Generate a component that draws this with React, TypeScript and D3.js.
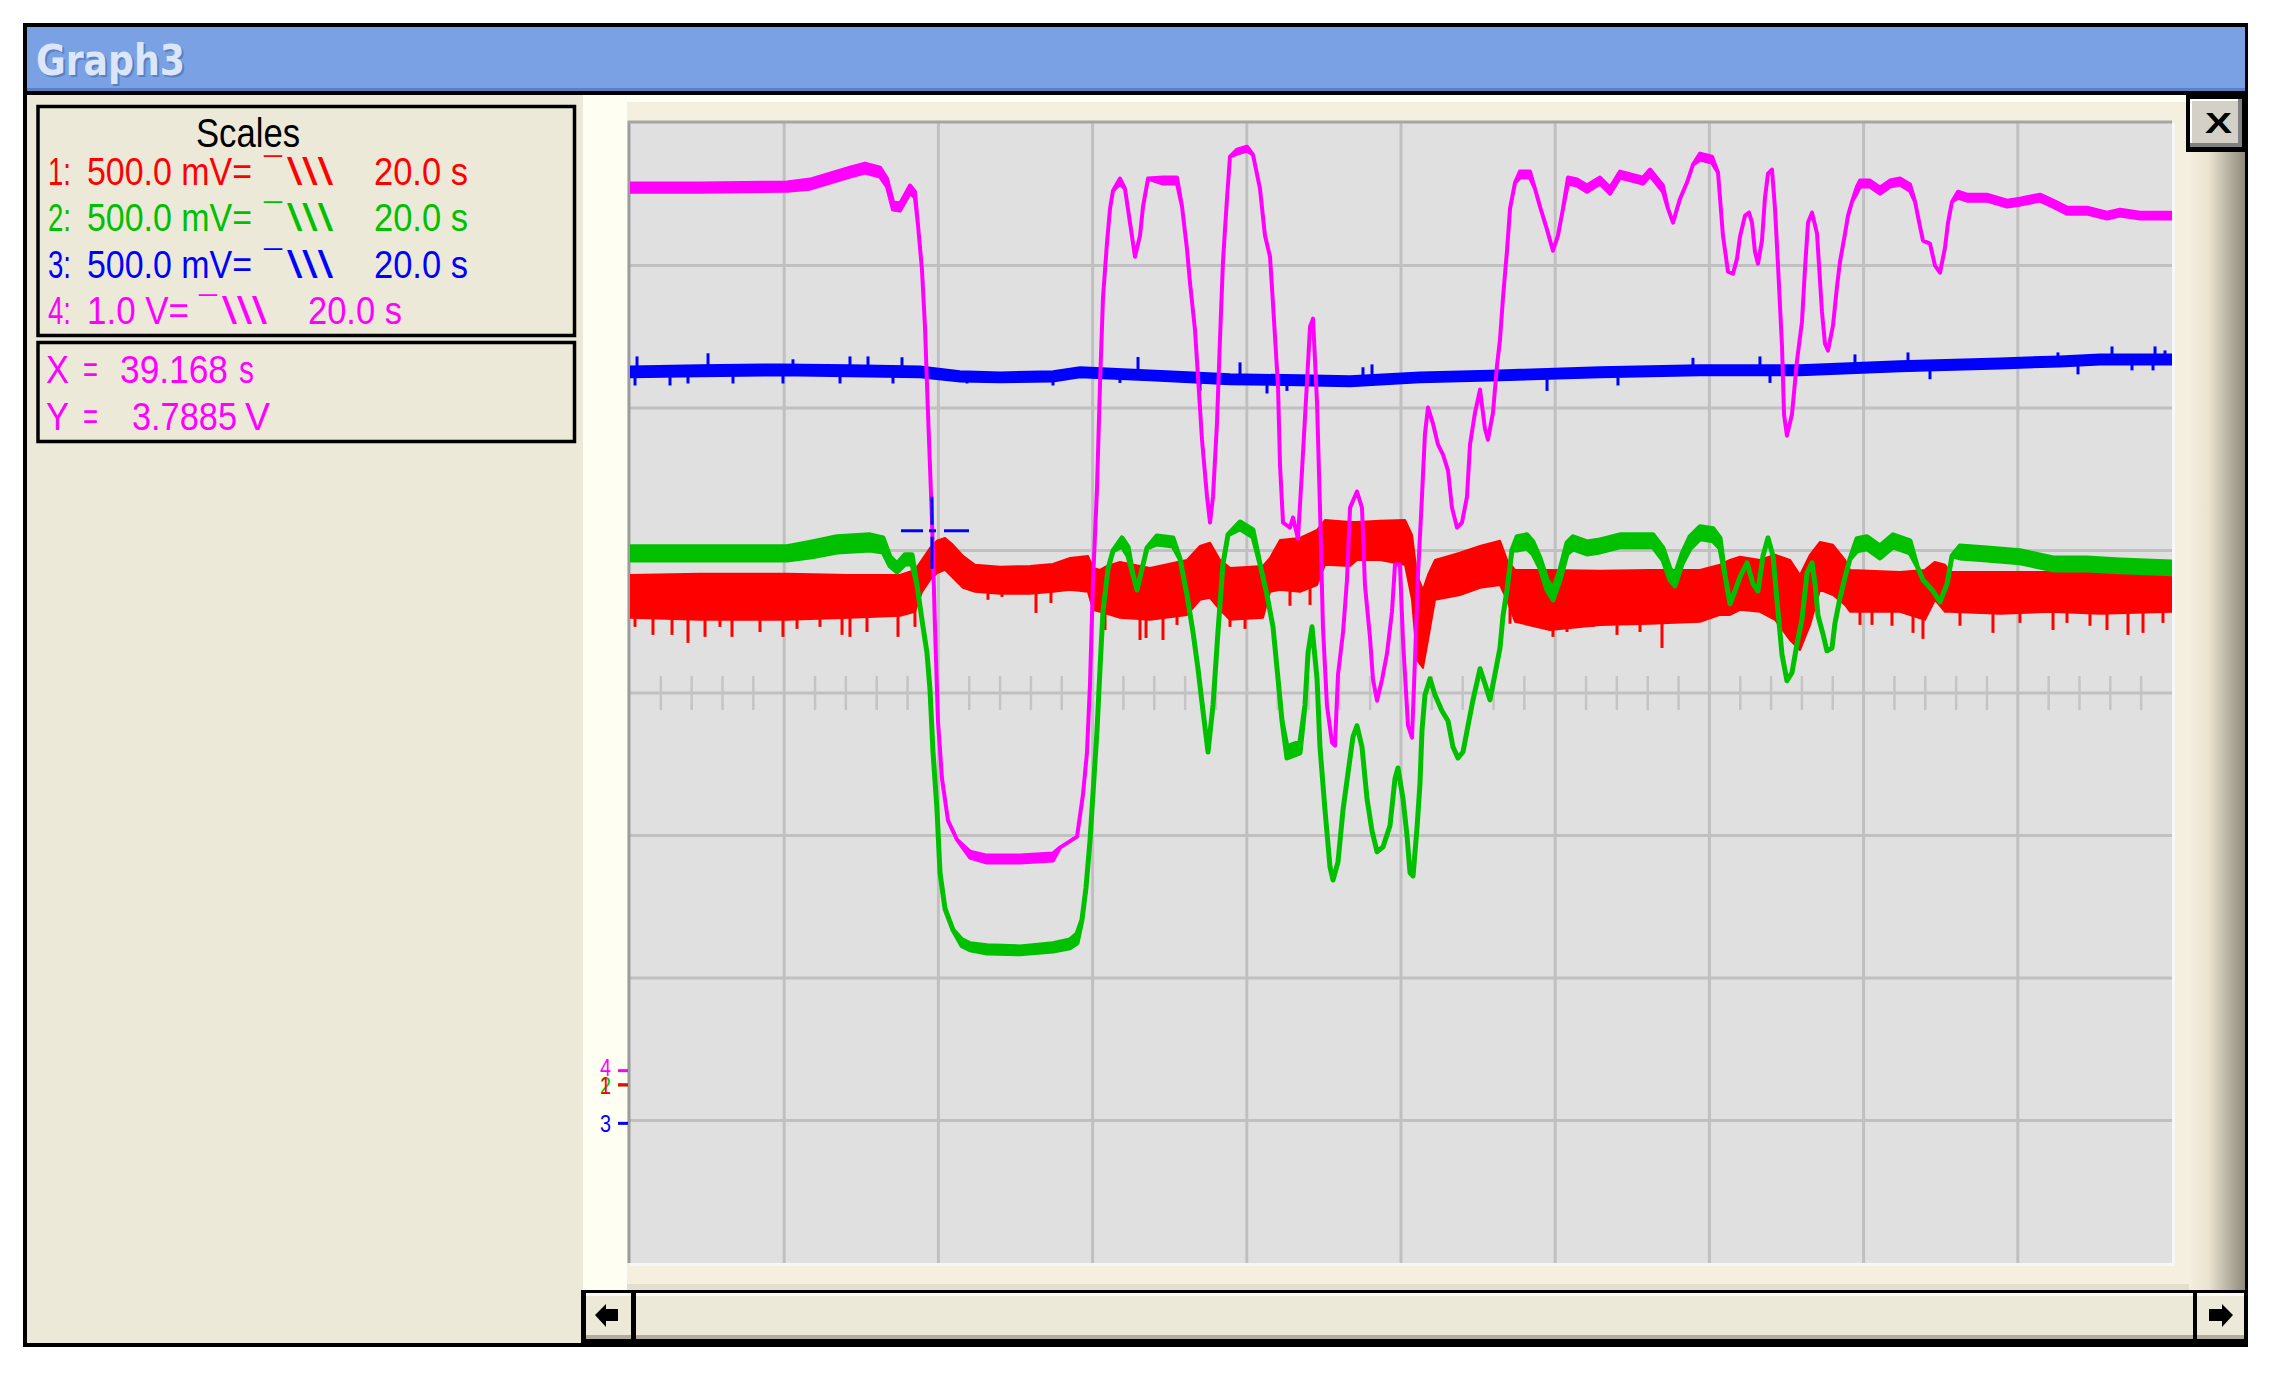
import React from "react";
import * as d3 from "d3";

// Envelopes: [time s, V] for a thin trace,
// [time s, min V, max V] where the trace is a noisy band.
const ch1Trace = [
  [0, 1.639, 1.789], [9.08, 1.632, 1.793], [20.36, 1.632, 1.793], [28.53, 1.639, 1.789],
  [35.02, 1.646, 1.789], [36.96, 1.66, 1.807], [37.87, 1.73, 1.842], [38.91, 1.772, 1.884],
  [39.82, 1.796, 1.909], [40.86, 1.807, 1.919], [41.89, 1.779, 1.895], [43.19, 1.744, 1.856],
  [44.75, 1.73, 1.825], [47.99, 1.723, 1.818], [51.88, 1.723, 1.821], [54.86, 1.73, 1.828],
  [57.07, 1.737, 1.849], [59.4, 1.73, 1.856], [60.05, 1.667, 1.814], [60.96, 1.66, 1.807],
  [61.87, 1.653, 1.821], [63.55, 1.639, 1.835], [67.44, 1.632, 1.814], [72.24, 1.649, 1.842],
  [73.93, 1.702, 1.891], [75.23, 1.709, 1.902], [76.52, 1.667, 1.842], [77.82, 1.632, 1.814],
  [82.1, 1.639, 1.821], [83.01, 1.73, 1.849], [84.31, 1.737, 1.912], [86.9, 1.73, 1.919],
  [89.11, 1.754, 1.947], [90.14, 1.825, 1.982], [93.39, 1.821, 1.975], [94.29, 1.842, 1.975],
  [97.28, 1.842, 1.979], [100.52, 1.825, 1.982], [101.43, 1.702, 1.93], [102.08, 1.491, 1.789],
  [102.85, 1.463, 1.737], [103.5, 1.561, 1.789], [104.41, 1.702, 1.842], [107.65, 1.719, 1.867],
  [110.25, 1.744, 1.891], [112.84, 1.754, 1.909], [113.75, 1.702, 1.842], [114.79, 1.625, 1.807],
  [119.33, 1.596, 1.807], [125.81, 1.614, 1.804], [132.3, 1.618, 1.807], [138.78, 1.625, 1.807],
  [141.37, 1.649, 1.825], [142.67, 1.649, 1.842], [143.97, 1.667, 1.853], [146.56, 1.66, 1.842],
  [148.51, 1.632, 1.86], [150.45, 1.561, 1.842], [151.75, 1.526, 1.789], [153.05, 1.614, 1.86],
  [154.35, 1.737, 1.905], [156.03, 1.719, 1.895], [157.59, 1.684, 1.842], [158.24, 1.66, 1.807],
  [164.72, 1.66, 1.8], [167.96, 1.632, 1.807], [169.26, 1.702, 1.835], [170.56, 1.66, 1.825],
  [171.21, 1.66, 1.8], [177.69, 1.653, 1.8], [184.18, 1.66, 1.8], [190.66, 1.653, 1.8],
  [200, 1.66, 1.793],
];

const ch2Trace = [
  [0, 1.842, 1.888], [20.36, 1.842, 1.888], [23.61, 1.853, 1.905], [26.85, 1.87, 1.923],
  [31.13, 1.877, 1.93], [32.81, 1.87, 1.919], [33.72, 1.821, 1.853], [34.63, 1.8, 1.828],
  [35.67, 1.828, 1.86], [36.58, 1.828, 1.86], [37.22, 1.754], [37.87, 1.632], [38.52, 1.516],
  [38.91, 1.386], [39.3, 1.168], [39.82, 0.965], [40.21, 0.744], [40.86, 0.618], [41.89, 0.544],
  [43.06, 0.488, 0.509], [44.1, 0.474, 0.495], [46.3, 0.463, 0.488], [50.58, 0.46, 0.484],
  [54.86, 0.47, 0.495], [57.07, 0.481, 0.509], [57.98, 0.498, 0.53], [58.62, 0.579],
  [59.14, 0.691], [59.66, 0.856], [60.05, 1.021], [60.57, 1.242], [60.96, 1.46], [61.35, 1.663],
  [62.0, 1.811], [62.65, 1.874], [63.81, 1.891, 1.919], [64.59, 1.856, 1.888], [65.24, 1.789],
  [65.76, 1.737], [66.41, 1.811], [67.06, 1.884], [68.35, 1.898, 1.926], [70.43, 1.891, 1.919],
  [71.34, 1.846], [72.24, 1.719], [73.02, 1.589], [73.67, 1.46], [74.32, 1.312], [74.97, 1.168],
  [75.62, 1.333], [76.26, 1.589], [76.91, 1.828], [77.56, 1.93], [79.12, 1.951, 1.975],
  [80.8, 1.923, 1.947], [81.71, 1.828], [82.62, 1.719], [83.4, 1.607], [84.05, 1.425],
  [84.57, 1.277], [85.21, 1.147, 1.186], [86.9, 1.165, 1.204], [87.55, 1.333], [87.94, 1.516],
  [88.46, 1.607], [89.11, 1.425], [89.49, 1.186], [90.14, 0.965], [90.79, 0.765], [91.18, 0.719],
  [91.83, 0.782], [92.48, 0.965], [93.13, 1.095], [93.77, 1.221], [94.29, 1.26], [94.94, 1.186],
  [95.59, 1.004], [96.24, 0.891], [96.89, 0.818], [97.67, 0.835], [98.57, 0.909], [99.22, 1.074],
  [99.61, 1.112], [100.26, 1.004], [100.78, 0.874], [101.17, 0.744], [101.56, 0.733],
  [102.08, 0.902], [102.46, 1.056], [102.72, 1.242], [103.11, 1.368], [103.76, 1.425],
  [104.41, 1.368], [105.32, 1.312], [106.1, 1.277], [106.74, 1.186], [107.39, 1.147],
  [108.04, 1.168], [108.69, 1.26], [109.34, 1.351], [110.25, 1.46], [110.89, 1.407],
  [111.54, 1.351], [112.19, 1.442], [112.84, 1.533], [113.23, 1.646], [113.75, 1.737],
  [114.4, 1.877], [115.05, 1.877, 1.923], [116.34, 1.884, 1.93], [117.12, 1.863, 1.905],
  [118.03, 1.814, 1.849], [118.94, 1.737, 1.772], [119.71, 1.702, 1.737], [120.62, 1.772, 1.807],
  [121.53, 1.863, 1.902], [122.31, 1.881, 1.923], [124.12, 1.863, 1.905], [125.81, 1.87, 1.912],
  [128.4, 1.888, 1.93], [132.68, 1.888, 1.93], [133.98, 1.842, 1.884], [134.89, 1.772, 1.811],
  [135.54, 1.751, 1.789], [136.45, 1.828, 1.863], [137.48, 1.881, 1.923], [138.78, 1.916, 1.958],
  [140.47, 1.909, 1.951], [141.37, 1.884, 1.919], [142.02, 1.789], [142.67, 1.688],
  [143.32, 1.733], [143.97, 1.782], [144.88, 1.832], [145.66, 1.758], [146.3, 1.733],
  [146.95, 1.856], [147.6, 1.919], [148.25, 1.856], [148.9, 1.66], [149.42, 1.509],
  [150.06, 1.418], [150.71, 1.446], [151.36, 1.547], [152.01, 1.635], [152.66, 1.796],
  [153.31, 1.832], [153.7, 1.758], [154.09, 1.646], [154.73, 1.582], [155.25, 1.523],
  [155.9, 1.533], [156.29, 1.621], [156.94, 1.709], [157.59, 1.782], [158.24, 1.846],
  [159.14, 1.874, 1.916], [160.44, 1.881, 1.923], [162.13, 1.849, 1.891], [163.81, 1.888, 1.93],
  [166.02, 1.867, 1.909], [166.93, 1.821], [167.7, 1.772], [169.0, 1.733], [169.91, 1.695],
  [170.82, 1.758], [171.47, 1.856], [172.5, 1.849, 1.891], [176.0, 1.842, 1.884],
  [180.28, 1.832, 1.874], [184.57, 1.807, 1.849], [188.98, 1.807, 1.849], [193.26, 1.8, 1.842],
  [200, 1.793, 1.835],
];

const ch3Trace = [
  [0, 2.618, 2.656], [9.08, 2.621, 2.66], [19.46, 2.625, 2.663], [28.53, 2.621, 2.66],
  [37.61, 2.618, 2.656], [42.8, 2.603, 2.639], [47.99, 2.6, 2.635], [54.86, 2.603, 2.639],
  [58.37, 2.618, 2.653], [67.44, 2.607, 2.642], [77.82, 2.593, 2.628], [86.9, 2.59, 2.625],
  [93.39, 2.586, 2.621], [102.46, 2.6, 2.635], [112.84, 2.607, 2.642], [125.81, 2.618, 2.653],
  [138.78, 2.625, 2.66], [151.75, 2.625, 2.66], [164.72, 2.639, 2.674], [177.69, 2.649, 2.684],
  [185.47, 2.656, 2.691], [190.66, 2.663, 2.698], [200, 2.663, 2.698],
];

const ch4Trace = [
  [0, 6.168, 6.225], [9.08, 6.168, 6.225], [20.36, 6.175, 6.232], [23.35, 6.189, 6.253],
  [25.94, 6.232, 6.295], [28.53, 6.274, 6.337], [30.48, 6.302, 6.365], [32.43, 6.274, 6.337],
  [33.33, 6.204, 6.26], [34.11, 6.042, 6.098], [35.02, 6.035, 6.084], [36.32, 6.161, 6.211],
  [36.96, 6.126, 6.168], [37.35, 5.937], [37.87, 5.621], [38.26, 5.221], [38.65, 4.618],
  [39.17, 3.86], [39.56, 3.109], [39.95, 2.449], [40.47, 2.049], [41.25, 1.754], [42.41, 1.621],
  [44.1, 1.495, 1.537], [46.3, 1.46, 1.509], [50.58, 1.46, 1.509], [54.86, 1.474, 1.523],
  [55.77, 1.565], [57.98, 1.642], [58.75, 1.937], [59.27, 2.232], [59.66, 2.709], [60.05, 3.432],
  [60.57, 4.084], [60.96, 4.814], [61.35, 5.425], [61.87, 5.811], [62.26, 6.049], [62.65, 6.175],
  [63.55, 6.225, 6.26], [64.2, 6.189], [64.85, 5.951], [65.5, 5.712], [66.15, 5.86], [66.54, 6.063],
  [67.19, 6.26], [69.13, 6.225, 6.267], [70.95, 6.225, 6.267], [71.6, 6.063], [72.24, 5.768],
  [72.63, 5.53], [73.28, 5.2], [73.67, 4.87], [74.19, 4.428], [74.84, 4.028], [75.23, 3.846],
  [75.62, 4.028], [76.13, 4.54], [76.52, 5.13], [76.91, 5.677], [77.43, 6.119], [77.82, 6.414],
  [78.73, 6.435, 6.463], [80.03, 6.456, 6.484], [80.8, 6.428], [81.71, 6.189], [82.36, 5.86],
  [83.01, 5.712], [83.4, 5.382], [84.05, 4.8], [84.31, 4.246], [84.7, 3.846], [85.6, 3.811],
  [85.99, 3.881], [86.64, 3.733], [87.16, 4.211], [87.81, 4.835], [88.2, 5.221], [88.59, 5.277],
  [89.11, 4.688], [89.49, 3.951], [89.88, 3.109], [90.4, 2.561], [91.05, 2.302], [91.44, 2.281],
  [91.83, 2.779], [92.48, 3.074], [92.99, 3.439], [93.39, 3.951], [94.29, 4.063], [94.94, 3.951],
  [95.33, 3.404], [95.98, 3.039], [96.37, 2.744], [96.89, 2.596], [97.54, 2.744], [98.18, 2.926],
  [98.83, 3.221], [99.22, 3.551], [99.87, 3.551], [100.26, 3.018], [100.91, 2.421], [101.43, 2.337],
  [101.82, 2.891], [102.2, 3.474], [102.72, 4.028], [103.11, 4.47], [103.5, 4.653], [104.15, 4.54],
  [104.8, 4.393], [105.45, 4.323], [106.1, 4.211], [106.61, 3.951], [107.26, 3.811],
  [107.91, 3.846], [108.56, 4.028], [108.95, 4.393], [109.6, 4.618], [110.25, 4.779],
  [110.89, 4.505], [111.28, 4.428], [111.93, 4.618], [112.45, 4.947], [112.84, 5.13],
  [113.23, 5.425], [113.75, 5.754], [114.14, 6.049], [114.79, 6.232], [115.43, 6.267, 6.309],
  [116.73, 6.267, 6.309], [117.38, 6.189], [118.03, 6.063], [118.94, 5.902], [119.71, 5.754],
  [120.36, 5.86], [121.01, 6.049], [121.66, 6.225, 6.267], [122.83, 6.211, 6.253],
  [124.12, 6.168, 6.211], [125.81, 6.225, 6.267], [127.11, 6.154, 6.196], [128.4, 6.267, 6.309],
  [131.39, 6.225, 6.267], [132.3, 6.281, 6.323], [133.98, 6.168, 6.211], [134.63, 6.049],
  [135.28, 5.951], [136.19, 6.119], [137.09, 6.232], [137.87, 6.358], [138.78, 6.393, 6.435],
  [140.34, 6.372, 6.414], [141.12, 6.302], [141.76, 5.86], [142.41, 5.607], [143.06, 5.593],
  [143.58, 5.698], [143.97, 5.853], [144.62, 6.0], [145.14, 6.021], [145.53, 5.951],
  [145.91, 5.747], [146.3, 5.663], [146.82, 5.825], [147.21, 6.126], [147.6, 6.295],
  [148.12, 6.323], [148.51, 6.049], [148.9, 5.649], [149.42, 5.081], [149.68, 4.604],
  [150.06, 4.456], [150.71, 4.604], [151.36, 4.982], [152.01, 5.256], [152.4, 5.628],
  [152.79, 5.951], [153.31, 6.021], [153.96, 5.874], [154.22, 5.649], [154.6, 5.326],
  [154.99, 5.102], [155.38, 5.053], [156.03, 5.228], [156.55, 5.502], [156.94, 5.677],
  [157.59, 5.874], [157.98, 6.0], [158.5, 6.098], [159.14, 6.161, 6.204], [159.53, 6.204, 6.246],
  [160.83, 6.204, 6.246], [162.13, 6.154, 6.196], [163.42, 6.204, 6.246], [164.72, 6.218, 6.26],
  [166.02, 6.175, 6.218], [166.67, 6.098], [167.32, 5.923], [167.7, 5.825], [168.61, 5.804],
  [169.26, 5.649], [169.91, 5.6], [170.56, 5.775], [170.95, 5.951], [171.47, 6.098],
  [172.24, 6.126, 6.168], [173.41, 6.105, 6.147], [176.0, 6.105, 6.147], [178.6, 6.063, 6.105],
  [180.28, 6.077, 6.119], [182.88, 6.105, 6.147], [184.57, 6.063, 6.105], [186.38, 6.014, 6.056],
  [188.98, 6.014, 6.056], [191.57, 5.979, 6.021], [193.26, 6.0, 6.042], [195.85, 5.979, 6.021],
  [200, 5.979, 6.021],
];

// noise spikes: [time s, tip V]
const ch1Spikes = [
  [0.65, 1.607], [2.98, 1.579], [5.45, 1.579], [7.52, 1.551], [9.73, 1.572], [11.67, 1.607],
  [13.23, 1.572], [16.86, 1.589], [19.84, 1.572], [21.66, 1.6], [24.64, 1.607], [27.5, 1.579],
  [28.53, 1.572], [30.74, 1.589], [34.76, 1.572], [36.96, 1.607], [46.43, 1.702], [48.25, 1.712],
  [52.66, 1.656], [54.6, 1.691], [61.61, 1.596], [66.15, 1.561], [66.93, 1.568], [69.13, 1.561],
  [70.95, 1.614], [77.82, 1.607], [79.77, 1.6], [85.6, 1.681], [88.2, 1.684], [114.14, 1.618],
  [115.43, 1.625], [119.71, 1.572], [121.53, 1.589], [124.9, 1.607], [128.02, 1.579],
  [131.0, 1.589], [133.85, 1.533], [159.53, 1.614], [161.09, 1.614], [163.68, 1.611],
  [166.41, 1.586], [167.7, 1.565], [172.5, 1.611], [176.78, 1.586], [180.28, 1.621],
  [184.57, 1.596], [186.38, 1.621], [189.36, 1.611], [191.57, 1.596], [194.29, 1.579],
  [196.24, 1.586], [198.83, 1.621],
];

const ch3Spikes = [
  [0.91, 2.691], [10.12, 2.702], [21.14, 2.681], [28.53, 2.691], [30.87, 2.691], [35.28, 2.688],
  [0.65, 2.589], [5.19, 2.589], [7.52, 2.596], [13.36, 2.596], [19.84, 2.596], [27.24, 2.596],
  [34.11, 2.596], [43.71, 2.596], [54.86, 2.589], [63.55, 2.598], [65.89, 2.689], [73.93, 2.57],
  [79.12, 2.67], [82.62, 2.561], [85.21, 2.57], [95.07, 2.653], [96.24, 2.663], [118.94, 2.57],
  [128.14, 2.589], [137.87, 2.686], [146.56, 2.691], [147.86, 2.598], [158.88, 2.698],
  [165.76, 2.705], [168.61, 2.611], [185.21, 2.705], [187.81, 2.628], [192.22, 2.726],
  [194.81, 2.642], [197.54, 2.642], [197.8, 2.726], [199.09, 2.712],
];

// scope settings
const channelIds = ["1", "2", "3", "4"];
const channelScaleText = ["500.0 mV=", "500.0 mV=", "500.0 mV=", "1.0 V="];
const channelVoltsPerDiv = [0.5, 0.5, 0.5, 1.0];
const channelZeroDiv = [-2.75, -2.75, -3.02, -2.65];
const timebaseText = "20.0 s";
const couplingGlyph = ["\u00AF", "\\\\\\"];
const timeRange = [0, 200];
const divRange = [-4, 4];
const cursorTime = 39.168;
const cursorVolts = 3.7885;
const cursorChannel = 3;
const windowTitle = "Graph3";

const traces = [ch1Trace, ch2Trace, ch3Trace, ch4Trace];
const spikes = [ch1Spikes, [], ch3Spikes, []];
const channelColors = ["#ff0000", "#00c000", "#0000ff", "#ff00ff"];
const traceStroke = [2, 5, 2, 4];

const PLOT = { x0: 630, x1: 2172, y0: 123, y1: 1263 };
const BODY_FONT = "'Liberation Sans', Arial, sans-serif";
const TALL = 1.15; // legend glyphs are taller than they are wide

const hiOf = (d: number[]) => (d.length > 2 ? d[2] : d[1]);
const byTime = d3.bisector((d: number[]) => d[0]);

// middle of the band at time t, for anchoring a spike
function bandMid(tr: number[][], t: number) {
  const i = Math.min(Math.max(byTime.left(tr, t), 1), tr.length - 1);
  const a = tr[i - 1];
  const b = tr[i];
  const f = b[0] === a[0] ? 0 : (t - a[0]) / (b[0] - a[0]);
  const ma = (a[1] + hiOf(a)) / 2;
  const mb = (b[1] + hiOf(b)) / 2;
  return ma + f * (mb - ma);
}

// one run of condensed legend text, baseline at y
function Cond({ x, y, w, children, fill }: { x: number; y: number; w: number; children: any; fill?: string }) {
  return (
    <g transform={`translate(0,${y}) scale(1,${TALL})`}>
      <text x={x} y={0} fill={fill} textLength={w} lengthAdjust="spacingAndGlyphs">
        {children}
      </text>
    </g>
  );
}

export default function App() {
  const x = d3.scaleLinear().domain(timeRange).range([PLOT.x0, PLOT.x1]);
  const div = d3.scaleLinear().domain(divRange).range([PLOT.y1, PLOT.y0]);
  const yCh = (ci: number, v: number) => div(v / channelVoltsPerDiv[ci] + channelZeroDiv[ci]);

  const vLines = d3.range(1, 10).map((i) => x(timeRange[0] + i * 20));
  const hLines = d3.range(divRange[0] + 1, divRange[1]).map((d) => div(d));
  const minorTicks = d3
    .range(timeRange[0] + 4, timeRange[1], 4)
    .filter((t) => Math.round(t) % 20 !== 0)
    .map((t) => x(t));
  const yMid = div(0);

  const paths = traces.map((tr, ci) =>
    d3
      .area<number[]>()
      .x((d) => x(d[0]))
      .y0((d) => yCh(ci, d[1]))
      .y1((d) => yCh(ci, hiOf(d)))(tr)
  );

  const cx = x(cursorTime);
  const cy = yCh(cursorChannel, cursorVolts);

  const rowY = (i: number) => 185 + i * 46.3;
  const rowLayout = [
    { labelW: 165, symX: 264, symW: 69, tbX: 374 },
    { labelW: 165, symX: 264, symW: 69, tbX: 374 },
    { labelW: 165, symX: 264, symW: 69, tbX: 374 },
    { labelW: 102, symX: 199, symW: 68, tbX: 308 },
  ];

  return (
    <svg
      width={2277}
      height={1390}
      style={{ position: "absolute", left: 0, top: 0, background: "#fff" }}
      fontFamily={BODY_FONT}
    >
      <defs>
        <linearGradient id="edgeShade" x1="0" x2="1" y1="0" y2="0">
          <stop offset="0" stopColor="#f4efdf" />
          <stop offset="0.35" stopColor="#e9e3cf" />
          <stop offset="1" stopColor="#8f8a7b" />
        </linearGradient>
        <clipPath id="plotClip">
          <rect x={PLOT.x0} y={PLOT.y0} width={PLOT.x1 - PLOT.x0} height={PLOT.y1 - PLOT.y0} />
        </clipPath>
      </defs>

      {/* window frame + title bar */}
      <rect x={23} y={23} width={2225} height={1324} fill="#000" />
      <rect x={27} y={27} width={2218} height={64} fill="#79a1e3" />
      <rect x={27} y={88} width={2218} height={3} fill="#5a80c6" />
      <text x={38} y={77} fontFamily="'DejaVu Sans', Verdana, sans-serif" fontWeight="bold"
        fontSize={43} fill="#5b7fc2" textLength={149} lengthAdjust="spacingAndGlyphs">{windowTitle}</text>
      <text x={36} y={75} fontFamily="'DejaVu Sans', Verdana, sans-serif" fontWeight="bold"
        fontSize={43} fill="#dbe6f8" textLength={149} lengthAdjust="spacingAndGlyphs">{windowTitle}</text>

      {/* left info panel */}
      <rect x={27} y={95} width={556} height={1248} fill="#ece9d8" />
      <rect x={38} y={106.5} width={536.5} height={229} fill="none" stroke="#000" strokeWidth={3.5} />
      <rect x={38} y={342.5} width={536.5} height={99} fill="none" stroke="#000" strokeWidth={3.5} />
      <g fontSize={35}>
        <Cond x={196} y={147} w={104} fill="#000">Scales</Cond>
      </g>
      {channelIds.map((id, i) => {
        const L = rowLayout[i];
        return (
          <g key={id} fill={channelColors[i]} fontSize={33}>
            <Cond x={48} y={rowY(i)} w={23}>{id + ":"}</Cond>
            <Cond x={87} y={rowY(i)} w={L.labelW}>{channelScaleText[i]}</Cond>
            <Cond x={L.symX} y={rowY(i)} w={18}>{couplingGlyph[0]}</Cond>
            <Cond x={L.symX + 23} y={rowY(i)} w={L.symW - 23}>{couplingGlyph[1]}</Cond>
            <Cond x={L.tbX} y={rowY(i)} w={94}>{timebaseText}</Cond>
          </g>
        );
      })}
      <g fill={channelColors[cursorChannel]} fontSize={33}>
        <Cond x={46} y={383} w={23}>X</Cond>
        <Cond x={83} y={383} w={15}>=</Cond>
        <Cond x={120} y={383} w={108}>{cursorTime.toFixed(3)}</Cond>
        <Cond x={239} y={383} w={15}>s</Cond>
        <Cond x={46} y={430} w={23}>Y</Cond>
        <Cond x={83} y={430} w={15}>=</Cond>
        <Cond x={132} y={430} w={105}>{cursorVolts.toFixed(4)}</Cond>
        <Cond x={245} y={430} w={25}>V</Cond>
      </g>

      {/* graph area surround */}
      <rect x={583} y={95} width={1662} height={1195} fill="#fffef3" />
      <rect x={627} y={102} width={1562} height={1188} fill="#f4efdf" />
      <rect x={2189} y={150} width={56} height={1140} fill="url(#edgeShade)" />
      <rect x={627} y={1284} width={1562} height={6} fill="#e4dfcc" />

      {/* close button */}
      <rect x={2186} y={95} width={59} height={57} fill="#000" />
      <rect x={2190} y={99} width={52} height={48} fill="#d4d0c8" />
      <rect x={2190} y={99} width={52} height={2} fill="#ffffff" />
      <rect x={2190} y={99} width={2} height={48} fill="#ffffff" />
      <rect x={2190} y={143} width={52} height={4} fill="#808080" />
      <rect x={2238} y={99} width={4} height={48} fill="#808080" />
      <text x={2205} y={133} fontFamily="'Liberation Sans', Arial, sans-serif" fontWeight="bold"
        fontSize={29} textLength={27} lengthAdjust="spacingAndGlyphs" fill="#000">X</text>

      {/* scrollbar */}
      <rect x={581} y={1290} width={1667} height={57} fill="#000" />
      {[
        [586, 45],
        [636, 1557],
        [2197, 47],
      ].map(([bx, bw]) => (
        <g key={bx}>
          <rect x={bx} y={1293} width={bw} height={46} fill="#ece9d8" />
          <rect x={bx} y={1293} width={bw} height={3} fill="#fbfaf4" />
          <rect x={bx} y={1335} width={bw} height={4} fill="#b2ad9a" />
        </g>
      ))}
      <path d="M595,1315 L606,1304 L606,1309 L618,1309 L618,1321 L606,1321 L606,1327 Z" fill="#000" />
      <path d="M2233,1315 L2222,1304 L2222,1309 L2209,1309 L2209,1321 L2222,1321 L2222,1327 Z" fill="#000" />

      {/* plot */}
      <rect x={PLOT.x0} y={PLOT.y0} width={PLOT.x1 - PLOT.x0} height={PLOT.y1 - PLOT.y0} fill="#e0e0e0" />
      <rect x={PLOT.x0} y={PLOT.y1} width={PLOT.x1 - PLOT.x0 + 3} height={3} fill="#f7f7f7" />
      <rect x={PLOT.x1} y={PLOT.y0} width={3} height={PLOT.y1 - PLOT.y0} fill="#f7f7f7" />
      {vLines.map((vx) => (
        <line key={"v" + vx} x1={vx} x2={vx} y1={PLOT.y0} y2={PLOT.y1} stroke="#c0c0c0" strokeWidth={3} />
      ))}
      {hLines.map((hy) => (
        <line key={"h" + hy} x1={PLOT.x0} x2={PLOT.x1} y1={hy} y2={hy} stroke="#c0c0c0" strokeWidth={3} />
      ))}
      {minorTicks.map((tx) => (
        <line key={"t" + tx} x1={tx} x2={tx} y1={yMid - 17} y2={yMid + 17} stroke="#c4c4c4" strokeWidth={2.5} />
      ))}
      <line x1={PLOT.x0 - 1} x2={PLOT.x0 - 1} y1={PLOT.y0 - 2} y2={PLOT.y1} stroke="#9c9c9c" strokeWidth={3} />
      <line x1={PLOT.x0 - 2} x2={PLOT.x1} y1={PLOT.y0 - 1} y2={PLOT.y0 - 1} stroke="#a6a6a6" strokeWidth={3} />

      <g clipPath="url(#plotClip)">
        {paths.map((p, ci) => (
          <g key={"tr" + ci}>
            <path d={p ?? ""} fill={channelColors[ci]} stroke={channelColors[ci]}
              strokeWidth={traceStroke[ci]} strokeLinejoin="round" />
            {spikes[ci].map((s, k) => (
              <line key={k} x1={x(s[0])} x2={x(s[0])} y1={yCh(ci, bandMid(traces[ci], s[0]))}
                y2={yCh(ci, s[1])} stroke={channelColors[ci]} strokeWidth={3} />
            ))}
          </g>
        ))}
      </g>

      {/* cursor crosshair */}
      <g stroke="#0000ff" strokeWidth={3}>
        <line x1={cx - 31} x2={cx - 9} y1={cy} y2={cy} />
        <line x1={cx - 3} x2={cx + 4} y1={cy} y2={cy} />
        <line x1={cx + 12} x2={cx + 37} y1={cy} y2={cy} />
        <line x1={cx} x2={cx} y1={cy - 34} y2={cy - 6} />
        <line x1={cx} x2={cx} y1={cy + 6} y2={cy + 38} />
      </g>

      {/* channel zero markers */}
      {[1, 0, 2, 3].map((ci) => {
        const zy = div(channelZeroDiv[ci]);
        const dy = ci === 3 ? 5 : 9;
        return (
          <g key={"m" + ci} fill={channelColors[ci]}>
            <rect x={618} y={zy - 1.5} width={10} height={3} />
            <text x={600} y={zy + dy} fontFamily="'Liberation Sans', Arial, sans-serif" fontSize={23}
              textLength={11} lengthAdjust="spacingAndGlyphs">{channelIds[ci]}</text>
          </g>
        );
      })}
    </svg>
  );
}
